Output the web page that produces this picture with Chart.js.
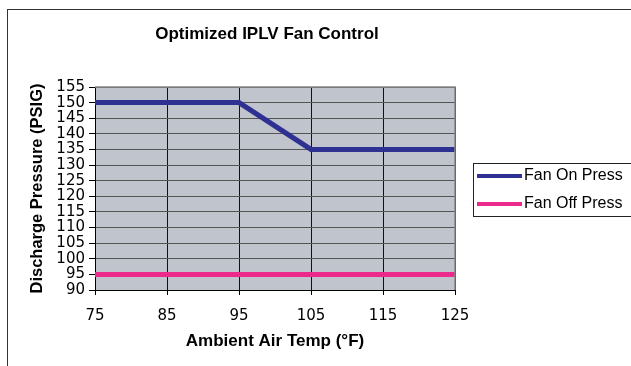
<!DOCTYPE html>
<html>
<head>
<meta charset="utf-8">
<script src="https://cdn.jsdelivr.net/npm/chart.js@4.4.1/dist/chart.umd.min.js"></script>
<style>
  html, body { margin: 0; padding: 0; background: #fff; }
  #wrap { position: relative; width: 631px; height: 366px; }
  #frame { position: absolute; left: 7px; top: 9px; width: 640px; height: 380px;
           border: 1px solid #333; box-sizing: border-box; pointer-events: none; }
</style>
</head>
<body>
<div id="wrap">
  <canvas id="c" width="631" height="366"></canvas>
  <div id="frame"></div>
</div>
<script>
// ambient temps (°F) and pressure setpoints (PSIG)
const tempOn = [75, 95, 105, 125];
const pressOn = [150, 150, 135, 135];
const tempOff = [75, 125];
const pressOff = [95, 95];
const seriesNames = ['Fan On Press', 'Fan Off Press'];
const seriesColors = ['#2e3192', '#ec2a8c'];

const FONT = '"Liberation Sans", Arial, sans-serif';
const TICKFONT = '"DejaVu Sans", sans-serif';

function pts(xs, ys) {
    return xs.map((x, i) => ({ x: x, y: ys[i] }));
}

// grey plot background + title + boxed legend on the right
const decor = {
    id: 'decor',
    beforeDraw(chart) {
        const a = chart.chartArea, ctx = chart.ctx;
        ctx.save();
        ctx.fillStyle = '#c0c4cc';
        ctx.fillRect(a.left, a.top, a.right - a.left, a.bottom - a.top);
        ctx.restore();
    },
    afterDraw(chart) {
        const ctx = chart.ctx, a = chart.chartArea;
        ctx.save();
        // plot border (top/right grey)
        ctx.strokeStyle = '#888';
        ctx.lineWidth = 1.5;
        ctx.beginPath();
        ctx.moveTo(a.left, a.top);
        ctx.lineTo(a.right, a.top);
        ctx.lineTo(a.right, a.bottom);
        ctx.stroke();

        ctx.fillStyle = '#000';
        ctx.font = 'bold 17px ' + FONT;
        ctx.textAlign = 'center';
        ctx.textBaseline = 'middle';
        ctx.fillText('Optimized IPLV Fan Control', 267, 34);

        // legend
        ctx.strokeStyle = '#222';
        ctx.lineWidth = 1;
        ctx.strokeRect(473.5, 163.5, 200, 53);
        ctx.font = '16px ' + FONT;
        ctx.textAlign = 'left';
        chart.data.datasets.forEach((ds, i) => {
            const y = 176 + i * 28;
            ctx.strokeStyle = ds.borderColor;
            ctx.lineWidth = 4;
            ctx.beginPath();
            ctx.moveTo(477, y);
            ctx.lineTo(522, y);
            ctx.stroke();
            ctx.fillStyle = '#000';
            ctx.fillText(ds.label, 524, y);
        });
        ctx.restore();
    }
};

new Chart(document.getElementById('c'), {
    type: 'line',
    data: {
        datasets: [
            { label: seriesNames[0], data: pts(tempOn, pressOn), borderColor: seriesColors[0],
              borderWidth: 5, pointRadius: 0, tension: 0 },
            { label: seriesNames[1], data: pts(tempOff, pressOff), borderColor: seriesColors[1],
              borderWidth: 5, pointRadius: 0, tension: 0 }
        ]
    },
    options: {
        responsive: false,
        animation: false,
        layout: { padding: { left: 28, right: 176, top: 87, bottom: 10 } },
        plugins: { legend: { display: false }, title: { display: false }, tooltip: { enabled: false } },
        scales: {
            x: {
                type: 'linear', min: 75, max: 125,
                ticks: { stepSize: 10, color: '#000', font: { family: TICKFONT, size: 15 }, padding: 12 },
                grid: { color: '#111', lineWidth: 1, tickLength: 5, tickColor: '#000' },
                border: { color: '#000', width: 1 },
                title: { display: true, text: 'Ambient Air Temp (°F)', color: '#000',
                         font: { family: FONT, size: 17, weight: 'bold' }, padding: { top: 4 } },
                afterFit(s) { s.height = 66; }
            },
            y: {
                min: 90, max: 155,
                ticks: { stepSize: 5, autoSkip: false, color: '#000',
                         font: { family: TICKFONT, size: 15, lineHeight: 1 }, padding: 4 },
                grid: { color: '#555', lineWidth: 1, tickLength: 6, tickColor: '#000' },
                border: { color: '#000', width: 1 },
                title: { display: true, text: 'Discharge Pressure (PSIG)', color: '#000',
                         font: { family: FONT, size: 16.5, weight: 'bold' }, padding: 0 },
                afterFit(s) { s.width = 67; }
            }
        }
    },
    plugins: [decor]
});
</script>
</body>
</html>
